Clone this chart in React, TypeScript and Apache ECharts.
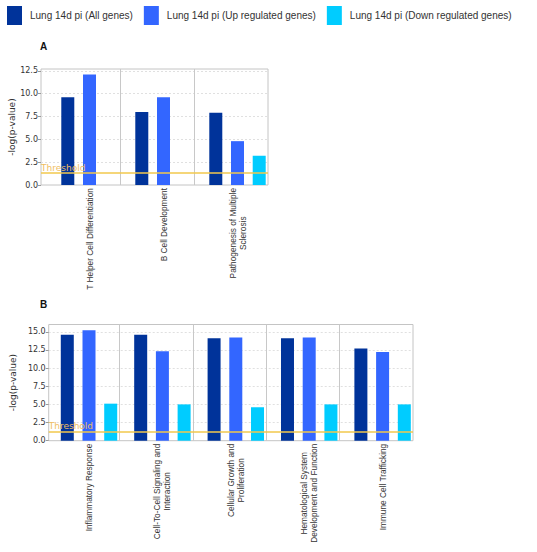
import React, { useEffect, useRef } from 'react';
import * as echarts from 'echarts';

const SERIES_NAMES = [
  'Lung 14d pi (All genes)',
  'Lung 14d pi (Up regulated genes)',
  'Lung 14d pi (Down regulated genes)',
];
const COLORS = ['#00339a', '#3366ff', '#00ccff'];

const CATEGORIES_A = [
  'T Helper Cell Differentiation',
  'B Cell Development',
  'Pathogenesis of Multiple\nSclerosis',
];
const ALL_A = [9.6, 8.0, 7.9];
const UP_A = [12.1, 9.6, 4.8];
const DOWN_A: (number | null)[] = [null, null, 3.2];

const CATEGORIES_B = [
  'Inflammatory Response',
  'Cell-To-Cell Signaling and\nInteraction',
  'Cellular Growth and\nProliferation',
  'Hematological System\nDevelopment and Function',
  'Immune Cell Trafficking',
];
const ALL_B = [14.6, 14.6, 14.1, 14.1, 12.7];
const UP_B = [15.2, 12.3, 14.2, 14.2, 12.2];
const DOWN_B = [5.1, 5.0, 4.6, 5.0, 5.0];

const THRESHOLD = 1.3;
const Y_INTERVAL = 2.5;
const Y_MAX_A = 12.7;
const Y_MAX_B = 16;

const TXT = '#333';

function panel(
  p: number,
  cats: string[],
  values: (number | null)[][],
  yMax: number,
  frame: { left: number; top: number; width: number; height: number },
  divLeft: number,
  barLeft: number
) {
  const innerWidth = frame.left + frame.width - divLeft;
  const grids = [
    { left: frame.left, top: frame.top, width: frame.width, height: frame.height, show: true, borderColor: '#c4c4c4', borderWidth: 1, backgroundColor: 'transparent' },
    { left: divLeft, top: frame.top, width: innerWidth, height: frame.height },
    { left: barLeft, top: frame.top, width: innerWidth, height: frame.height },
  ];
  const b = p * 3;
  const xAxes = [
    { gridIndex: b, type: 'value', min: 0, max: 1, show: false },
    {
      gridIndex: b + 1, type: 'category', data: cats,
      axisLine: { show: false }, axisTick: { show: false }, axisLabel: { show: false },
      splitLine: { show: true, interval: 0, showMinLine: false, showMaxLine: false, lineStyle: { color: '#c8c8c8', width: 1 } },
    },
    {
      gridIndex: b + 2, type: 'category', data: cats,
      axisLine: { show: false }, axisTick: { show: false }, splitLine: { show: false },
      axisLabel: {
        show: true, interval: 0, rotate: 90, margin: 3,
        fontSize: 8.3, fontFamily: 'Liberation Sans', color: TXT, lineHeight: 10,
        formatter: (v: string) => v.split('\n').map((s) => `{c|${s}}`).join('\n'),
        rich: { c: { align: 'center', fontSize: 8.3, fontFamily: 'Liberation Sans', color: TXT, lineHeight: 10 } },
      },
    },
  ];
  const yAxes = [
    {
      gridIndex: b, type: 'value', min: 0, max: yMax, interval: Y_INTERVAL,
      name: '-log(p-value)', nameLocation: 'middle', nameGap: 22,
      nameTextStyle: { fontSize: 9, fontFamily: 'DejaVu Sans', color: TXT },
      axisLine: { show: false },
      axisTick: { show: true, length: 3, lineStyle: { color: '#999' } },
      axisLabel: { fontSize: 8, fontFamily: 'DejaVu Sans', color: TXT, margin: 3, showMaxLabel: false, formatter: (v: number) => v.toFixed(1) },
      splitLine: { show: true, showMinLine: false, showMaxLine: false, lineStyle: { type: [2, 2], color: '#e0e0e0' } },
    },
    { gridIndex: b + 1, type: 'value', min: 0, max: yMax, show: false },
    { gridIndex: b + 2, type: 'value', min: 0, max: yMax, show: false },
  ];
  const series: any[] = values.map((vals, i) => ({
    type: 'bar', name: SERIES_NAMES[i], xAxisIndex: b + 2, yAxisIndex: b + 2,
    data: vals, barWidth: 13, barGap: '67%', itemStyle: { color: COLORS[i] },
  }));
  series.push({
    type: 'line', xAxisIndex: b, yAxisIndex: b, data: [], z: 5, silent: true,
    markLine: {
      silent: true, symbol: ['none', 'none'],
      lineStyle: { color: '#f2c94c', width: 1.5, type: 'solid' },
      label: { show: true, position: 'insideStartTop', formatter: 'Threshold', color: '#f0be62', fontSize: 9, fontFamily: 'DejaVu Sans', distance: [0, 1] },
      data: [{ yAxis: THRESHOLD }],
    },
  });
  return { grids, xAxes, yAxes, series };
}

export default function App() {
  const ref = useRef<HTMLDivElement>(null);
  useEffect(() => {
    if (!ref.current) return;
    const chart = echarts.init(ref.current, undefined, { renderer: 'svg' });
    const pa = panel(0, CATEGORIES_A, [ALL_A, UP_A, DOWN_A], Y_MAX_A,
      { left: 41, top: 69, width: 227, height: 116 }, 46, 52.5);
    const pb = panel(1, CATEGORIES_B, [ALL_B, UP_B, DOWN_B], Y_MAX_B,
      { left: 41, top: 324.5, width: 372, height: 116.2 }, 46, 52.3);
    chart.setOption({
      animation: false,
      backgroundColor: '#fff',
      title: [
        { text: 'A', left: 40, top: 41, padding: 0, textStyle: { fontSize: 10, fontWeight: 'bold', fontFamily: 'Liberation Sans', color: '#111' } },
        { text: 'B', left: 40, top: 299, padding: 0, textStyle: { fontSize: 10, fontWeight: 'bold', fontFamily: 'Liberation Sans', color: '#111' } },
      ],
      legend: {
        top: 6, left: 7, padding: 0, itemWidth: 15, itemHeight: 19, itemGap: 11, icon: 'rect',
        data: SERIES_NAMES,
        textStyle: { fontSize: 10, fontFamily: 'Liberation Sans', color: TXT, padding: [0, 0, 0, 3] },
      },
      grid: [...pa.grids, ...pb.grids],
      xAxis: [...pa.xAxes, ...pb.xAxes],
      yAxis: [...pa.yAxes, ...pb.yAxes],
      series: [...pa.series, ...pb.series],
    });
    return () => chart.dispose();
  }, []);
  return <div ref={ref} style={{ position: 'fixed', left: 0, top: 0, width: 537, height: 552 }} />;
}
